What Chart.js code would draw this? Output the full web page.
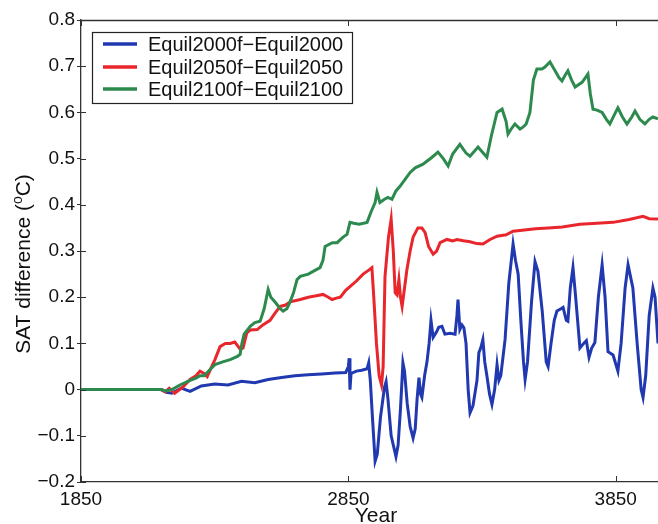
<!DOCTYPE html>
<html><head><meta charset="utf-8">
<style>html,body{margin:0;padding:0;background:#fff;overflow:hidden}#wrap{width:658px;height:524px;position:relative}</style>
<script src="https://cdn.jsdelivr.net/npm/chart.js@4.4.1/dist/chart.umd.min.js"></script>
</head><body><div id="wrap"><canvas id="c" width="658" height="524"></canvas></div>
<script>
const xTicks = [1850, 2850, 3850];
const yTicks = [-0.2, -0.1, 0, 0.1, 0.2, 0.3, 0.4, 0.5, 0.6, 0.7, 0.8];
const xTitle = 'Year';
const yTitleMain = 'SAT difference (';
const yTitleSup = 'o';
const yTitleEnd = 'C)';
const seriesNames = ['Equil2000f\u2212Equil2000', 'Equil2050f\u2212Equil2050', 'Equil2100f\u2212Equil2100'];
const seriesColors = ['#2038b0', '#e8262b', '#2d8a4e'];

const blueYears = [1850,2150,2170,2190,2225,2258,2300,2350,2400,2450,2500,2550,2600,2650,2700,2750,2800,2840,2850,2853,2856,2860,2880,2900,2920,2926,2932,2940,2950,2958,2970,2985,2991,2998,3010,3028,3036,3045,3054,3060,3070,3081,3092,3100,3107,3114,3120,3125,3135,3144,3152,3159,3167,3180,3188,3200,3211,3230,3249,3256,3260,3267,3275,3282,3290,3298,3305,3316,3331,3338,3345,3353,3360,3368,3378,3387,3397,3406,3413,3420,3436,3450,3466,3475,3485,3495,3505,3511,3520,3535,3548,3559,3575,3590,3597,3608,3620,3630,3645,3653,3665,3671,3680,3690,3700,3716,3730,3740,3750,3760,3772,3785,3799,3810,3821,3840,3858,3870,3885,3896,3914,3930,3945,3952,3962,3975,3989,3997,4008];
const blueValues = [0,0,-0.006,-0.008,0.003,-0.004,0.008,0.012,0.01,0.018,0.015,0.022,0.026,0.03,0.032,0.034,0.036,0.037,0.05,0.068,0.0,0.035,0.04,0.042,0.045,0.058,0.02,-0.06,-0.155,-0.14,-0.06,0.005,0.017,-0.02,-0.1,-0.145,-0.12,-0.04,0.058,0.04,-0.03,-0.08,-0.105,-0.085,-0.02,0.026,-0.01,-0.017,0.03,0.06,0.1,0.15,0.113,0.125,0.135,0.137,0.12,0.122,0.12,0.16,0.195,0.13,0.14,0.134,0.1,0.0,-0.05,-0.035,0.02,0.08,0.09,0.108,0.06,0.03,-0.01,-0.032,0.0,0.054,0.02,0.03,0.108,0.23,0.315,0.28,0.25,0.15,0.06,0.022,0.06,0.19,0.277,0.256,0.17,0.06,0.05,0.1,0.15,0.17,0.175,0.178,0.15,0.148,0.22,0.264,0.2,0.09,0.1,0.106,0.07,0.09,0.102,0.2,0.27,0.2,0.082,0.075,0.04,0.1,0.22,0.27,0.22,0.1,0.0,-0.017,0.03,0.16,0.22,0.2,0.1];

const redYears = [1850,2150,2165,2180,2200,2230,2258,2280,2295,2310,2322,2335,2351,2370,2390,2408,2425,2445,2456,2470,2483,2509,2530,2557,2575,2595,2615,2632,2670,2700,2730,2755,2775,2789,2805,2820,2840,2856,2880,2905,2925,2938,2945,2955,2965,2974,2980,2987,3000,3010,3018,3025,3032,3039,3045,3051,3060,3069,3081,3092,3110,3125,3137,3150,3167,3180,3193,3219,3240,3256,3280,3305,3330,3353,3380,3406,3440,3466,3500,3550,3597,3650,3716,3780,3840,3900,3952,3975,4008];
const redValues = [0,0,-0.005,0.003,-0.008,0.005,0.022,0.03,0.04,0.035,0.028,0.045,0.065,0.093,0.1,0.1,0.103,0.088,0.09,0.123,0.129,0.13,0.14,0.15,0.165,0.18,0.183,0.19,0.195,0.2,0.203,0.206,0.2,0.195,0.198,0.2,0.215,0.223,0.235,0.25,0.258,0.264,0.2,0.1,0.03,0.01,0.05,0.245,0.33,0.369,0.3,0.21,0.205,0.238,0.2,0.18,0.22,0.26,0.3,0.33,0.35,0.35,0.34,0.31,0.293,0.3,0.318,0.325,0.322,0.325,0.322,0.32,0.316,0.315,0.325,0.332,0.335,0.343,0.345,0.348,0.35,0.352,0.358,0.36,0.362,0.368,0.375,0.37,0.369];

const greenYears = [1850,2150,2165,2190,2220,2258,2280,2295,2310,2330,2351,2380,2408,2435,2445,2452,2460,2483,2500,2520,2535,2550,2560,2575,2595,2606,2620,2632,2645,2658,2670,2700,2725,2744,2755,2763,2790,2808,2830,2845,2856,2870,2890,2920,2935,2950,2957,2968,2985,2998,3013,3028,3043,3062,3081,3100,3129,3163,3185,3205,3223,3240,3267,3290,3305,3335,3350,3368,3385,3406,3425,3440,3447,3460,3473,3492,3503,3515,3529,3542,3555,3574,3585,3604,3623,3638,3649,3660,3671,3685,3698,3724,3746,3755,3765,3780,3799,3815,3828,3845,3858,3875,3892,3910,3922,3940,3959,3975,3989,4008];
const greenValues = [0,0,-0.003,0.0,0.01,0.02,0.025,0.03,0.03,0.042,0.054,0.06,0.065,0.072,0.076,0.1,0.12,0.137,0.145,0.148,0.175,0.217,0.2,0.19,0.175,0.17,0.175,0.19,0.21,0.238,0.245,0.25,0.258,0.264,0.28,0.31,0.318,0.318,0.33,0.336,0.362,0.36,0.358,0.362,0.385,0.405,0.427,0.405,0.412,0.416,0.412,0.43,0.44,0.455,0.47,0.48,0.488,0.503,0.514,0.5,0.484,0.51,0.531,0.512,0.505,0.525,0.515,0.503,0.55,0.6,0.607,0.58,0.553,0.565,0.575,0.564,0.568,0.575,0.6,0.67,0.694,0.694,0.698,0.709,0.69,0.675,0.668,0.68,0.69,0.67,0.655,0.665,0.683,0.64,0.607,0.605,0.6,0.585,0.575,0.595,0.61,0.59,0.575,0.59,0.603,0.585,0.575,0.585,0.59,0.586];

const FONT = '"Liberation Sans", Arial, Helvetica, sans-serif';
const zip = (xs, ys) => xs.map((x, i) => ({x: x, y: ys[i]}));
const seriesData = [zip(blueYears, blueValues), zip(redYears, redValues), zip(greenYears, greenValues)];

const decor = {
  id: 'decor',
  afterDraw(chart) {
    const ctx = chart.ctx, a = chart.chartArea, xs = chart.scales.x, ys = chart.scales.y;
    ctx.save();
    ctx.strokeStyle = '#333'; ctx.lineWidth = 1.3;
    ctx.beginPath(); ctx.moveTo(a.left, a.top + 0.5); ctx.lineTo(a.right, a.top + 0.5); ctx.stroke();
    ctx.lineWidth = 1;
    xTicks.forEach(v => { const px = Math.round(xs.getPixelForValue(v)) + 0.5;
      ctx.beginPath(); ctx.moveTo(px, a.bottom); ctx.lineTo(px, a.bottom - 6); ctx.stroke();
      ctx.beginPath(); ctx.moveTo(px, a.top); ctx.lineTo(px, a.top + 6); ctx.stroke(); });
    yTicks.forEach(v => { const py = Math.round(ys.getPixelForValue(v)) + 0.5;
      ctx.beginPath(); ctx.moveTo(a.left, py); ctx.lineTo(a.left + 5, py); ctx.stroke(); });
    // legend
    const lx = 92, ly = 32, lw = 260, lh = 71;
    ctx.fillStyle = '#fff'; ctx.fillRect(lx, ly, lw, lh);
    ctx.strokeStyle = '#222'; ctx.lineWidth = 1.2; ctx.strokeRect(lx + 0.5, ly + 0.5, lw, lh);
    ctx.font = '20px ' + FONT; ctx.textBaseline = 'middle'; ctx.textAlign = 'left';
    [44, 67, 89].forEach((yy, i) => {
      ctx.strokeStyle = seriesColors[i]; ctx.lineWidth = 3.5;
      ctx.beginPath(); ctx.moveTo(103, yy); ctx.lineTo(137, yy); ctx.stroke();
      ctx.fillStyle = '#111'; ctx.fillText(seriesNames[i], 148, yy + 1);
    });
    // x title
    ctx.font = '21px ' + FONT; ctx.textAlign = 'center'; ctx.textBaseline = 'alphabetic';
    ctx.fillStyle = '#111'; ctx.fillText(xTitle, 376, 522);
    // y title with superscript
    ctx.translate(30, 264); ctx.rotate(-Math.PI / 2);
    ctx.font = '21px ' + FONT; const w1 = ctx.measureText(yTitleMain).width, w3 = ctx.measureText(yTitleEnd).width;
    ctx.font = '14px ' + FONT; const w2 = ctx.measureText(yTitleSup).width;
    let x0 = -(w1 + w2 + w3) / 2;
    ctx.textAlign = 'left';
    ctx.font = '21px ' + FONT; ctx.fillText(yTitleMain, x0, 0);
    ctx.font = '14px ' + FONT; ctx.fillText(yTitleSup, x0 + w1, -8);
    ctx.font = '21px ' + FONT; ctx.fillText(yTitleEnd, x0 + w1 + w2, 0);
    ctx.restore();
  }
};

new Chart(document.getElementById('c'), {
  type: 'line',
  data: {
    datasets: seriesData.map((d, i) => ({
      label: seriesNames[i], data: d, borderColor: seriesColors[i], backgroundColor: seriesColors[i],
      borderWidth: 3, pointRadius: 0, tension: 0, fill: false, order: 2 - i
    }))
  },
  options: {
    responsive: false, animation: false, devicePixelRatio: 1,
    layout: {padding: {top: 20, right: 0, bottom: 0, left: 0}},
    plugins: {legend: {display: false}, tooltip: {enabled: false}, title: {display: false}},
    scales: {
      x: {
        type: 'linear', min: 1850, max: 4008,
        afterBuildTicks: s => { s.ticks = xTicks.map(v => ({value: v})); },
        afterFit: s => { s.height = 42; },
        grid: {display: true, drawOnChartArea: false, drawTicks: false},
        border: {display: true, color: '#333', width: 1.3},
        ticks: {padding: 6, color: '#111', font: {family: FONT, size: 19}, maxRotation: 0, callback: v => String(v)}
      },
      y: {
        type: 'linear', min: -0.2, max: 0.8,
        afterBuildTicks: s => { s.ticks = yTicks.map(v => ({value: v})); },
        afterFit: s => { s.width = 81; },
        grid: {display: true, drawOnChartArea: false, drawTicks: true, tickLength: 4, color: '#333'},
        border: {display: true, color: '#333', width: 1.3},
        ticks: {padding: 2, color: '#111', font: {family: FONT, size: 19},
          callback: v => Math.abs(v) < 1e-9 ? '0' : v.toFixed(1).replace('-', '\u2212')}
      }
    }
  },
  plugins: [decor]
});
</script></body></html>
